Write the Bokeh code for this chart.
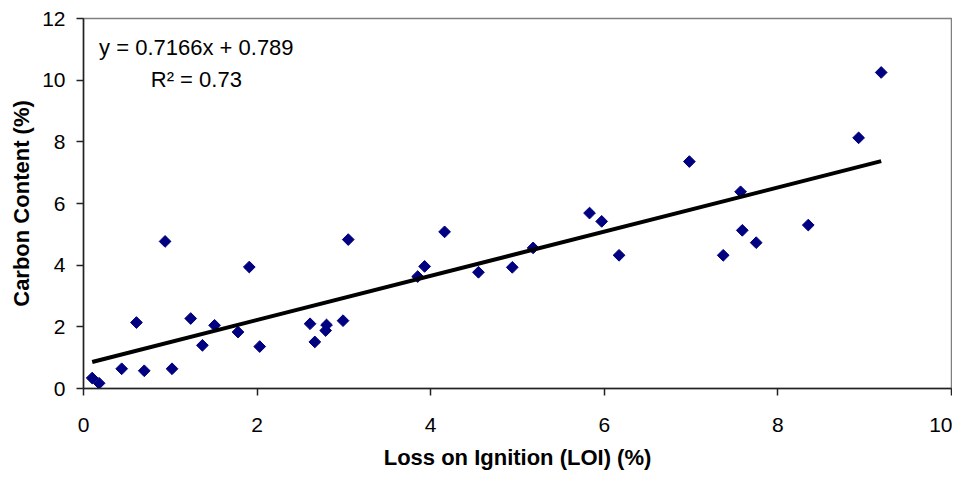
import math
from bokeh.plotting import figure
from bokeh.models import Label, FixedTicker
from bokeh.embed import file_html
from bokeh.resources import INLINE

# Data
loi = [0.10, 0.18, 0.44, 0.61, 0.70, 0.94, 1.02, 1.235, 1.37, 1.51, 1.78, 1.91,
       2.03, 2.61, 2.665, 2.79, 2.80, 2.99, 3.05, 3.85, 3.93, 4.16, 4.55, 4.94,
       5.18, 5.83, 5.97, 6.17, 6.98, 7.37, 7.57, 7.59, 7.75, 8.35, 8.93, 9.19]
carbon = [0.34, 0.17, 0.64, 2.14, 0.575, 4.77, 0.64, 2.27, 1.40, 2.05, 1.83, 3.94,
          1.36, 2.10, 1.51, 1.88, 2.06, 2.20, 4.83, 3.63, 3.96, 5.08, 3.77, 3.93,
          4.56, 5.69, 5.42, 4.32, 7.36, 4.32, 6.38, 5.13, 4.73, 5.30, 8.13, 10.25]
slope = 0.7166
intercept = 0.789
r_squared = 0.73
x_ticks = [0, 2, 4, 6, 8, 10]
y_ticks = [0, 2, 4, 6, 8, 10, 12]

FONT = "Liberation Sans"

p = figure(width=952, height=473, output_backend="svg", toolbar_location=None,
           x_range=(0, 10), y_range=(0, 12),
           min_border_left=83, min_border_right=1, min_border_top=18, min_border_bottom=85,
           background_fill_color="white", border_fill_color="white")

p.grid.visible = False
p.outline_line_color = "#808080"
p.outline_line_width = 1.5

for ax in (p.xaxis[0], p.yaxis[0]):
    ax.axis_line_color = "#222222"
    ax.axis_line_width = 1.5
    ax.major_tick_line_color = "#222222"
    ax.major_tick_line_width = 1.5
    ax.major_tick_in = 0
    ax.major_tick_out = 7
    ax.minor_tick_line_color = None
    ax.major_label_text_font = FONT
    ax.major_label_text_font_size = "21px"
    ax.major_label_text_color = "black"
    ax.axis_label_text_font = FONT
    ax.axis_label_text_font_size = "22px"
    ax.axis_label_text_font_style = "bold"
    ax.axis_label_text_color = "black"

p.xaxis.ticker = FixedTicker(ticks=x_ticks)
p.yaxis.ticker = FixedTicker(ticks=y_ticks)
p.xaxis.axis_label = "Loss on Ignition (LOI) (%)"
p.yaxis.axis_label = "Carbon Content (%)"
p.xaxis.major_label_standoff = 22
p.yaxis.major_label_standoff = 11
p.xaxis.axis_label_standoff = 10
p.yaxis.axis_label_standoff = 5

p.scatter(loi, carbon, marker="square", size=8.3, angle=math.pi / 4,
          fill_color="#000080", line_color="#000080")

x_fit = [min(loi), max(loi)]
y_fit = [slope * v + intercept for v in x_fit]
p.line(x_fit, y_fit, line_color="black", line_width=4)

p.add_layout(Label(x=1.3, y=11.06, text=f"y = {slope}x + {intercept}",
                   text_align="center", text_baseline="middle",
                   text_font=FONT, text_font_size="22px", text_color="black"))
p.add_layout(Label(x=1.3, y=10.02, text=f"R² = {r_squared}",
                   text_align="center", text_baseline="middle",
                   text_font=FONT, text_font_size="22px", text_color="black"))

open("out.html", "w").write(file_html(p, INLINE))
